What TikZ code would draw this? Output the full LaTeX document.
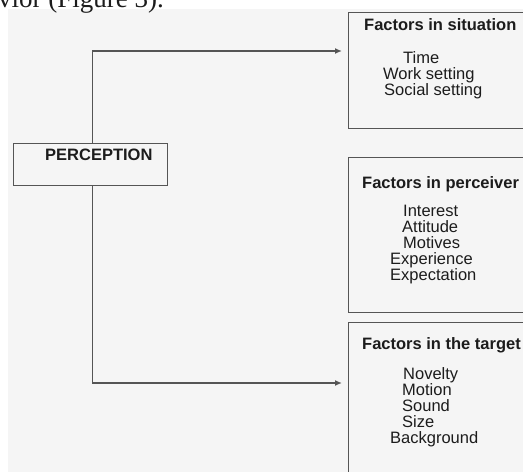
\documentclass[tikz,border=0pt]{standalone}
\usepackage{fontspec}
\setmainfont{Liberation Sans}
\newfontfamily\pageserif{Liberation Serif}
\usetikzlibrary{arrows.meta}

\definecolor{panelgray}{RGB}{245,245,245}
\definecolor{boxline}{RGB}{85,85,85}
\definecolor{textdark}{RGB}{28,28,28}

\tikzset{
    factorbox/.style={rectangle,draw=boxline,line width=1.4pt,fill=panelgray,inner sep=0pt,anchor=north west},
    heading/.style={font=\fontsize{16.5}{16}\selectfont\bfseries,text=textdark,inner sep=0pt,anchor=base west},
    factor/.style={font=\fontsize{16.5}{16}\selectfont,text=textdark,inner sep=0pt,anchor=base west},
    link/.style={draw=boxline,line width=1.4pt,-{Latex[length=7pt,width=6pt]}}
}

\begin{document}
\begin{tikzpicture}[x=1pt,y=-1pt]
    	        % Page and panel
    	        \clip (0,0) rectangle (523,472);
    	        \fill[white] (0,0) rectangle (523,472);
    	        \fill[panelgray] (8,9) rectangle (523,472);
    	        \node[font=\pageserif\fontsize{27}{30}\selectfont,text=textdark,inner sep=0pt,anchor=base west] (pagetext) at (-2,7) {vior (Figure 3).};
    	        % Boxes
    	        \node[factorbox,minimum width=154pt,minimum height=42pt] (perception) at (13,143) {};
    	        \node[factorbox,minimum width=200pt,minimum height=116pt] (situation) at (348,12) {};
    	        \node[factorbox,minimum width=200pt,minimum height=155pt] (perceiver) at (348,157) {};
    	        \node[factorbox,minimum width=200pt,minimum height=170pt] (target) at (348,322) {};
    	        % Perception
    	        \node[heading] (perctitle) at (45,160) {PERCEPTION};
    	        % Factors in situation
    	        \node[heading] (sittitle) at (364,30) {Factors in situation};
    	        \node[factor] (time) at (403,63) {Time};
    	        \node[factor] (work) at (383,79) {Work setting};
    	        \node[factor] (social) at (384,95) {Social setting};
    	        % Factors in perceiver
    	        \node[heading] (pertitle) at (362,188) {Factors in perceiver};
    	        \node[factor] (interest) at (403,216) {Interest};
    	        \node[factor] (attitude) at (402,232) {Attitude};
    	        \node[factor] (motives) at (403,248) {Motives};
    	        \node[factor] (experience) at (390,264) {Experience};
    	        \node[factor] (expectation) at (390,280) {Expectation};
    	        % Factors in the target
    	        \node[heading] (tgttitle) at (362,349) {Factors in the target};
    	        \node[factor] (novelty) at (403,379) {Novelty};
    	        \node[factor] (motion) at (402,395) {Motion};
    	        \node[factor] (sound) at (402,411) {Sound};
    	        \node[factor] (size) at (402,427) {Size};
    	        \node[factor] (background) at (390,443) {Background};
    	        % Connectors
    	        \coordinate (sitend) at (342,51);
    	        \coordinate (tgtend) at (342,383);
    	        \draw[link] ([xshift=2pt]perception.north) |- (sitend);
    	        \draw[link] ([xshift=2pt]perception.south) |- (tgtend);
    	    \end{tikzpicture}
\end{document}
